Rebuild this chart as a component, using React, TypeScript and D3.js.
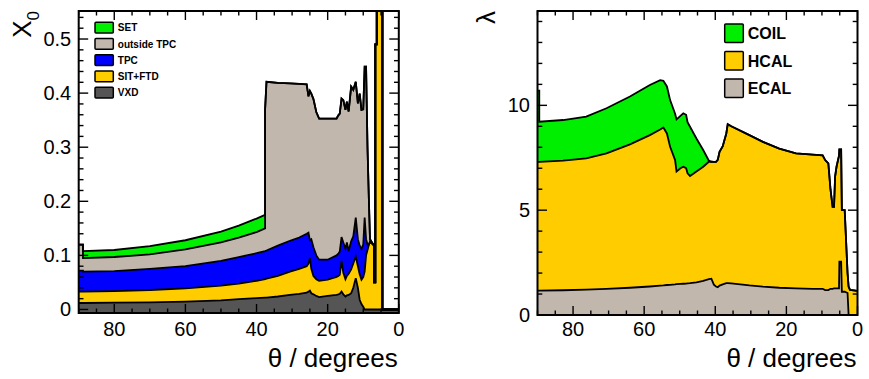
import React from 'react';
import * as d3 from 'd3';

// ---------- Left panel: material budget in X0 (stacked thickness per layer) ----------
const LEFT_THETA = [90, 88.8, 88.8, 80, 70, 60, 50, 45, 40, 37.6, 37.6, 37.2, 34, 30.6, 28, 25.9, 25.4, 25.0, 24.6, 24.0, 23.2, 22.4, 20.0, 17.5, 17.0, 16.6, 16.1, 15.6, 15.0, 14.6, 14.1, 13.4, 12.8, 12.1, 11.5, 11.0, 10.5, 10.0, 9.6, 9.2, 8.8, 8.4, 8.1, 7.2, 7.0, 7.0, 6.6, 6.6, 6.2, 6.2, 4.6, 4.6, 0];
const VXD =         [.012, .012, .012, .0125, .013, .0145, .017, .019, .021, .022, .022, .022, .024, .027, .029, .031, .033, .035, .030, .028, .025, .023, .025, .027, .028, .029, .033, .028, .024, .026, .027, .030, .040, .058, .040, .018, .010, .005, 0, 0, 0, 0, 0, 0, 0, 0, 0, 0, 0, 0, 0, 0, 0];
const SIT_FTD =     [.021, .021, .021, .0215, .023, .0245, .027, .029, .032, .034, .034, .035, .038, .043, .046, .049, .052, .060, .045, .034, .031, .030, .030, .033, .034, .035, .057, .040, .032, .036, .039, .044, .045, .040, .040, .047, .045, .055, .070, .100, .110, .120, .125, .120, .120, .050, .050, .490, .490, .600, .600, 0, 0];
const TPC =         [.039, .039, .037, .037, .039, .041, .046, .049, .051, .052, .052, .052, .056, .057, .058, .060, .057, .033, .055, .053, .044, .039, .037, .040, .041, .043, .044, .056, .056, .062, .042, .052, .050, .072, .050, .053, .057, .060, .100, .030, .010, 0, 0, 0, 0, 0, 0, 0, 0, 0, 0, 0, 0];
const OUTSIDE_TPC = [.048, .048, .025, .026, .027, .031, .034, .036, .039, .042, .261, .312, .301, .291, .284, .276, .252, .276, .269, .274, .265, .261, .261, .253, .256, .255, .256, .263, .257, .260, .258, .286, .271, .251, .251, .281, .257, .250, .279, .319, .180, .080, .005, 0, 0, 0, 0, 0, 0, 0, 0, 0, 0];
const SET =         [0, 0, .013, .013, .015, .017, .020, .022, .025, .025, 0, 0, 0, 0, 0, 0, 0, 0, 0, 0, 0, 0, 0, 0, 0, 0, 0, 0, 0, 0, 0, 0, 0, 0, 0, 0, 0, 0, 0, 0, 0, 0, 0, 0, 0, 0, 0, 0, 0, 0, 0, 0, 0];
const LEFT_Y_TICKS = [0, 0.1, 0.2, 0.3, 0.4, 0.5];
const LEFT_Y_LABELS = ['0', '0.1', '0.2', '0.3', '0.4', '0.5'];

// ---------- Right panel: interaction lengths (stacked thickness per layer) ----------
const RIGHT_THETA = [90, 89.5, 89.5, 82.8, 76.3, 70.6, 64.0, 58.4, 55.5, 54.6, 53.6, 52.7, 51.3, 50.9, 49.8, 49.0, 48.2, 47.8, 47.1, 45.3, 43.4, 41.8, 41.1, 40.4, 39.8, 39.3, 38.8, 37.9, 36.9, 36.5, 35.5, 30.4, 26.6, 22.0, 17.3, 12.6, 9.8, 9.1, 8.2, 7.6, 7.0, 6.6, 6.3, 5.9, 5.2, 5.1, 4.6, 4.4, 3.6, 2.8, 2.5, 2.1, 0];
const ECAL = [1.16, 1.16, 1.16, 1.18, 1.21, 1.25, 1.30, 1.36, 1.40, 1.41, 1.43, 1.44, 1.46, 1.47, 1.48, 1.49, 1.50, 1.51, 1.52, 1.56, 1.63, 1.71, 1.73, 1.45, 1.36, 1.33, 1.40, 1.46, 1.52, 1.52, 1.51, 1.41, 1.35, 1.30, 1.27, 1.25, 1.25, 1.19, 1.19, 1.25, 1.25, 1.27, 1.27, 1.27, 1.27, 2.54, 2.54, 1.11, 1.11, 1.05, 0, 0, 0];
const HCAL = [6.14, 6.14, 6.14, 6.18, 6.26, 6.46, 6.84, 7.22, 7.45, 7.53, 7.23, 6.58, 5.93, 5.37, 5.52, 5.58, 5.50, 5.25, 5.11, 5.28, 5.44, 5.60, 5.58, 5.85, 5.94, 6.07, 6.38, 6.59, 7.14, 7.58, 7.49, 7.17, 6.91, 6.64, 6.44, 6.40, 6.37, 6.20, 6.04, 4.75, 3.91, 3.89, 5.33, 5.80, 6.33, 5.36, 5.36, 3.89, 3.89, 0.95, 1.35, 1.20, 1.15];
const COIL = [3.40, 3.40, 1.92, 1.94, 1.99, 2.15, 2.28, 2.39, 2.35, 2.23, 2.24, 2.23, 2.21, 2.49, 2.50, 2.55, 2.55, 2.44, 2.35, 1.58, 0.80, 0.05, 0, 0, 0, 0, 0, 0, 0, 0, 0, 0, 0, 0, 0, 0, 0, 0, 0, 0, 0, 0, 0, 0, 0, 0, 0, 0, 0, 0, 0, 0, 0];
const RIGHT_Y_TICKS = [0, 5, 10];
const RIGHT_Y_LABELS = ['0', '5', '10'];

const X_TICKS = [0, 20, 40, 60, 80];
const X_LABELS = ['0', '20', '40', '60', '80'];

const FONT = 'Liberation Sans, Arial, Helvetica, sans-serif';

type Layer = { key: string; label: string; values: number[]; color: string };

const LEFT_LAYERS: Layer[] = [
  { key: 'vxd', label: 'VXD', values: VXD, color: '#555555' },
  { key: 'sit', label: 'SIT+FTD', values: SIT_FTD, color: '#ffcc00' },
  { key: 'tpc', label: 'TPC', values: TPC, color: '#0000ff' },
  { key: 'out', label: 'outside TPC', values: OUTSIDE_TPC, color: '#c1b7ad' },
  { key: 'set', label: 'SET', values: SET, color: '#00ee00' },
];
const RIGHT_LAYERS: Layer[] = [
  { key: 'ecal', label: 'ECAL', values: ECAL, color: '#c1b7ad' },
  { key: 'hcal', label: 'HCAL', values: HCAL, color: '#ffcc00' },
  { key: 'coil', label: 'COIL', values: COIL, color: '#00ee00' },
];

type PanelProps = {
  id: string;
  theta: number[];
  layers: Layer[];
  x0: number; x1: number; yTop: number; yBot: number;
  yDomain: [number, number];
  yTicks: number[]; yLabels: string[]; yMinorStep: number; yMinorMax: number;
  legend: { x: number; y: number; boxW: number; boxH: number; step: number; fontSize: number; textDx: number };
  yTitle: React.ReactNode;
};

function Panel(p: PanelProps) {
  const x = d3.scaleLinear().domain([90, 0]).range([p.x0, p.x1]);
  const y = d3.scaleLinear().domain(p.yDomain).range([p.yBot, p.yTop]);
  const rows = p.theta.map((t, i) => {
    const r: any = { theta: t };
    p.layers.forEach((l) => (r[l.key] = l.values[i]));
    return r;
  });
  const stack = d3.stack<any>().keys(p.layers.map((l) => l.key));
  const series = stack(rows);
  const area = (li: number) =>
    d3.area<any>()
      .x((d) => x(d.data.theta))
      .y0((d) => (li === 0 ? y(p.yDomain[0]) : y(d[0])))
      .y1((d) => y(d[1]));
  const line = d3.line<any>().x((d) => x(d.data.theta)).y((d) => y(d[1]));

  const xMinor = d3.range(0, 91, 5);
  const yMinor = d3.range(0, p.yMinorMax + 1e-9, p.yMinorStep);
  const clipId = 'clip-' + p.id;
  const legendItems = [...p.layers].reverse();

  return (
    <g>
      <defs>
        <clipPath id={clipId}>
          <rect x={p.x0} y={p.yTop} width={p.x1 - p.x0} height={p.yBot - p.yTop} />
        </clipPath>
      </defs>
      <g clipPath={`url(#${clipId})`}>
        {series.map((s, i) => (
          <path key={'a' + i} d={area(i)(s as any) || ''} fill={p.layers[i].color} stroke="none" />
        ))}
        {series.map((s, i) => (
          <path key={'l' + i} d={line(s as any) || ''} fill="none" stroke="#000" strokeWidth={1.8} strokeLinejoin="miter" />
        ))}
      </g>
      {/* ticks */}
      {xMinor.map((t) => {
        const major = X_TICKS.includes(t);
        const len = major ? 9 : 4.5;
        return (
          <g key={'xt' + t} stroke="#000" strokeWidth={1.4}>
            <line x1={x(t)} x2={x(t)} y1={p.yBot} y2={p.yBot - len} />
            <line x1={x(t)} x2={x(t)} y1={p.yTop} y2={p.yTop + len} />
          </g>
        );
      })}
      {yMinor.map((v) => {
        const major = p.yTicks.some((t) => Math.abs(t - v) < 1e-9);
        const len = major ? 9.5 : 4.8;
        return (
          <g key={'yt' + v} stroke="#000" strokeWidth={1.4}>
            <line x1={p.x0} x2={p.x0 + len} y1={y(v)} y2={y(v)} />
            <line x1={p.x1} x2={p.x1 - len} y1={y(v)} y2={y(v)} />
          </g>
        );
      })}
      <rect x={p.x0} y={p.yTop} width={p.x1 - p.x0} height={p.yBot - p.yTop} fill="none" stroke="#000" strokeWidth={2} />
      {/* tick labels */}
      {X_TICKS.map((t, i) => (
        <text key={'xl' + t} x={x(t)} y={336} textAnchor="middle" fontFamily={FONT} fontSize={20} fill="#000">{X_LABELS[i]}</text>
      ))}
      {p.yTicks.map((t, i) => (
        <text key={'yl' + t} x={p.x0 - 7.5} y={y(t) + 7} textAnchor="end" fontFamily={FONT} fontSize={20} fill="#000">{p.yLabels[i]}</text>
      ))}
      <text x={p.x1 - 1} y={367} textAnchor="end" fontFamily={FONT} fontSize={26} fill="#000">θ / degrees</text>
      {p.yTitle}
      {/* legend */}
      {legendItems.map((l, i) => {
        const cy = p.legend.y + i * p.legend.step;
        return (
          <g key={'lg' + l.key}>
            <rect x={p.legend.x} y={cy - p.legend.boxH / 2} width={p.legend.boxW} height={p.legend.boxH} fill={l.color} stroke="#000" strokeWidth={1.5} rx={1} />
            <text x={p.legend.x + p.legend.boxW + p.legend.textDx} y={cy + p.legend.fontSize * 0.36} fontFamily={FONT} fontWeight="bold" fontSize={p.legend.fontSize} fill="#000">{l.label}</text>
          </g>
        );
      })}
    </g>
  );
}

export default function App() {
  return (
    <svg width={869} height={379} style={{ position: 'absolute', left: 0, top: 0, background: '#fff' }}>
      <rect x={0} y={0} width={869} height={379} fill="#fff" />
      <Panel
        id="left"
        theta={LEFT_THETA}
        layers={LEFT_LAYERS}
        x0={78.7} x1={398.8} yTop={11} yBot={313}
        yDomain={[-0.0065, 0.5518]}
        yTicks={LEFT_Y_TICKS} yLabels={LEFT_Y_LABELS} yMinorStep={0.02} yMinorMax={0.54}
        legend={{ x: 95, y: 27.7, boxW: 18.3, boxH: 10.7, step: 16.25, fontSize: 10, textDx: 4.5 }}
        yTitle={
          <text transform="translate(31,11) rotate(-90)" textAnchor="end" fontFamily={FONT} fontSize={26} fill="#000">
            X<tspan fontSize={17} dy={8}>0</tspan>
          </text>
        }
      />
      <Panel
        id="right"
        theta={RIGHT_THETA}
        layers={RIGHT_LAYERS}
        x0={537.5} x1={857.5} yTop={11} yBot={315}
        yDomain={[0, 14.5]}
        yTicks={RIGHT_Y_TICKS} yLabels={RIGHT_Y_LABELS} yMinorStep={1} yMinorMax={14}
        legend={{ x: 724.7, y: 33.3, boxW: 18.6, boxH: 18.6, step: 27.5, fontSize: 16, textDx: 4.5 }}
        yTitle={
          <text transform="translate(495,11) rotate(-90)" textAnchor="end" fontFamily={FONT} fontSize={26} fill="#000">λ</text>
        }
      />
    </svg>
  );
}
